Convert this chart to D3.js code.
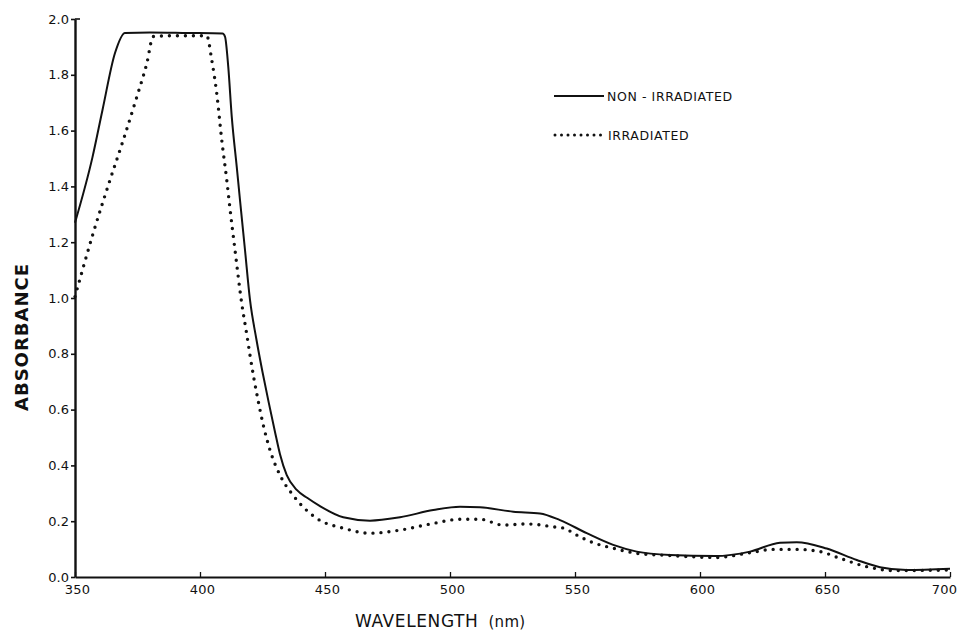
<!DOCTYPE html>
<html>
<head>
<meta charset="utf-8">
<script src="https://cdn.jsdelivr.net/npm/d3@7"></script>
<style>
  html, body { margin: 0; padding: 0; background: #fff; }
  svg { display: block; }
  text { font-family: "DejaVu Sans", sans-serif; fill: #111; }
</style>
</head>
<body>
<svg id="chart" width="962" height="635"></svg>
<script>
// Absorption spectra, wavelength (nm) vs absorbance
const nonIrrWl  = [350, 357, 361, 366, 370, 380, 395, 409, 410, 411.3, 412.7, 414.7, 416, 418, 420, 422.5, 425, 427.5, 430, 432, 434.7, 438.7, 443, 448, 457.3, 468, 480, 493.3, 504, 512, 525.3, 536, 544, 554.7, 565.3, 574.7, 588, 606, 620, 632, 638.7, 650.7, 662.7, 672, 682.7, 700];
const nonIrrAbs = [1.27, 1.505, 1.674, 1.878, 1.95, 1.952, 1.95, 1.948, 1.937, 1.829, 1.65, 1.47, 1.351, 1.172, 0.993, 0.855, 0.735, 0.625, 0.52, 0.44, 0.365, 0.312, 0.283, 0.254, 0.214, 0.202, 0.214, 0.24, 0.252, 0.25, 0.234, 0.228, 0.204, 0.157, 0.115, 0.091, 0.079, 0.075, 0.091, 0.123, 0.125, 0.102, 0.061, 0.035, 0.025, 0.03];

const irrWl  = [350, 357.3, 364, 369.3, 374.7, 378.7, 381.3, 390, 402.7, 404.7, 406.7, 408.7, 410.7, 412, 414, 416.7, 418.7, 420, 421.7, 423.3, 425.3, 428, 432, 437.5, 446.7, 457.3, 468, 480, 493.3, 504, 512, 521.3, 530.7, 541.3, 546, 549.3, 557.3, 565.3, 574.7, 588, 606.7, 620, 629.3, 638.7, 648, 656, 666.7, 677.3, 700];
const irrAbs = [1.005, 1.233, 1.423, 1.566, 1.72, 1.84, 1.937, 1.94, 1.94, 1.853, 1.733, 1.566, 1.423, 1.32, 1.172, 0.98, 0.87, 0.795, 0.705, 0.63, 0.545, 0.455, 0.365, 0.29, 0.21, 0.175, 0.157, 0.168, 0.192, 0.207, 0.207, 0.186, 0.19, 0.18, 0.174, 0.157, 0.123, 0.103, 0.085, 0.077, 0.07, 0.087, 0.099, 0.099, 0.091, 0.067, 0.037, 0.023, 0.025];

const xTicks = [350, 400, 450, 500, 550, 600, 650, 700];
const yTicks = [0.0, 0.2, 0.4, 0.6, 0.8, 1.0, 1.2, 1.4, 1.6, 1.8, 2.0];
const legendLabels = ["NON - IRRADIATED", "IRRADIATED"];

const svg = d3.select("#chart");
const x = d3.scaleLinear().domain([350, 700]).range([75, 950]);
const y = d3.scaleLinear().domain([0, 2]).range([577, 19]);

const line = d3.line()
  .x(d => x(d[0]))
  .y(d => y(d[1]))
  .curve(d3.curveMonotoneX);

const nonIrr = nonIrrWl.map((w, i) => [w, nonIrrAbs[i]]);
const irr = irrWl.map((w, i) => [w, irrAbs[i]]);

// x axis: ticks point up into the plot
const xAxis = svg.append("g")
  .attr("transform", `translate(0,${y(0)})`)
  .call(d3.axisBottom(x).tickValues(xTicks).tickSizeInner(-5).tickSizeOuter(0).tickPadding(8));
xAxis.select(".domain").attr("stroke", "#111").attr("stroke-width", 2.2);
xAxis.selectAll(".tick line").attr("stroke", "#111").attr("stroke-width", 1.3);
xAxis.selectAll(".tick text")
  .attr("font-size", 13).attr("letter-spacing", 0.3).attr("fill", "#111")
  .attr("font-family", "DejaVu Sans, sans-serif")
  .attr("dx", d => d === 700 ? -6 : 2);

// y axis: short ticks to the left
const yAxis = svg.append("g")
  .attr("transform", `translate(${x(350)},0)`)
  .call(d3.axisLeft(y).tickValues(yTicks).tickFormat(d3.format(".1f")).tickSizeInner(4).tickSizeOuter(0).tickPadding(2));
yAxis.select(".domain").attr("stroke", "#111").attr("stroke-width", 2.4);
yAxis.selectAll(".tick line").attr("stroke", "#111").attr("stroke-width", 1.6);
yAxis.selectAll(".tick text")
  .attr("font-size", 13).attr("fill", "#111")
  .attr("font-family", "DejaVu Sans, sans-serif");
// small cap at top of the y axis
svg.append("line")
  .attr("x1", x(350)).attr("x2", x(350) + 5)
  .attr("y1", y(2)).attr("y2", y(2))
  .attr("stroke", "#111").attr("stroke-width", 1.6);

// spectra
svg.append("path").datum(nonIrr)
  .attr("d", line)
  .attr("fill", "none").attr("stroke", "#111").attr("stroke-width", 2);

svg.append("path").datum(irr)
  .attr("d", line)
  .attr("fill", "none").attr("stroke", "#111").attr("stroke-width", 3.4)
  .attr("stroke-linecap", "round").attr("stroke-dasharray", "0,8");

// legend
const lg = svg.append("g");
lg.append("line").attr("x1", 554).attr("x2", 604).attr("y1", 96).attr("y2", 96)
  .attr("stroke", "#111").attr("stroke-width", 2);
lg.append("text").attr("x", 607).attr("y", 100.5).attr("font-size", 12.5).attr("letter-spacing", 0.6)
  .text(legendLabels[0]);
lg.append("line").attr("x1", 555).attr("x2", 601).attr("y1", 135).attr("y2", 135)
  .attr("stroke", "#111").attr("stroke-width", 3).attr("stroke-linecap", "round")
  .attr("stroke-dasharray", "0,6.5");
lg.append("text").attr("x", 608).attr("y", 139.5).attr("font-size", 12.5).attr("letter-spacing", 0.6)
  .text(legendLabels[1]);

// axis titles
svg.append("text")
  .attr("transform", `translate(28,337) rotate(-90)`)
  .attr("text-anchor", "middle")
  .attr("font-size", 18).attr("font-weight", "bold").attr("letter-spacing", 1)
  .text("ABSORBANCE");

const xt = svg.append("text").attr("x", 355).attr("y", 627)
  .attr("font-size", 17).attr("letter-spacing", 0.6);
xt.append("tspan").text("WAVELENGTH");
xt.append("tspan").attr("dx", 10).attr("font-size", 15).attr("letter-spacing", 0.3).text("(nm)");
</script>
</body>
</html>
